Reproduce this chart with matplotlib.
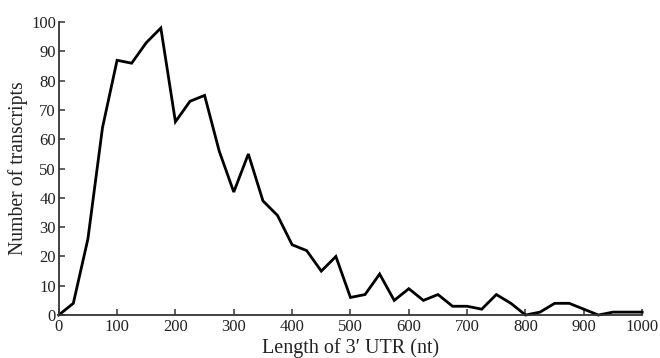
import numpy as np
from matplotlib import pyplot as plt

plt.rcParams['font.family'] = ['Liberation Serif', 'DejaVu Serif']

# 3' UTR length bins (nt) and transcript counts
lengths = list(range(0, 1001, 25))
counts = [0, 4, 26, 64, 87, 86, 93, 98, 66, 73, 75, 56, 42, 55, 39, 34,
          24, 22, 15, 20, 6, 7, 14, 5, 9, 5, 7, 3, 3, 2, 7, 4,
          0, 1, 4, 4, 2, 0, 1, 1, 1]

x_ticks = list(range(0, 1001, 100))
y_ticks = list(range(0, 101, 10))


def main():
  fig = plt.figure(figsize=(6.6, 3.58), dpi=100)
  ax = fig.add_axes([0.089, 0.12, 0.884, 0.818])

  ax.plot(np.array(lengths), np.array(counts), color='black', lw=2.0,
          solid_joinstyle='miter', clip_on=False)

  ax.set_xlim(0, 1000)
  ax.set_ylim(0, 100)
  ax.set_xticks(x_ticks)
  ax.set_yticks(y_ticks)

  for s in ('top', 'right'):
    ax.spines[s].set_visible(False)
  for s in ('left', 'bottom'):
    ax.spines[s].set_linewidth(1.3)
    ax.spines[s].set_color('#333333')

  ax.tick_params(direction='in', length=4, width=1.1, colors='#333333',
                 labelsize=12, labelcolor='#222222', pad=3)
  ax.tick_params(axis='y', pad=2)

  ax.set_xlabel("Length of 3\u2032 UTR (nt)", fontsize=14.5, color='#222222',
                labelpad=2)
  ax.set_ylabel("Number of transcripts", fontsize=14.2, color='#222222',
                labelpad=2)

  fig.savefig('out.png', dpi=100)


if __name__ == "__main__":
  main()
